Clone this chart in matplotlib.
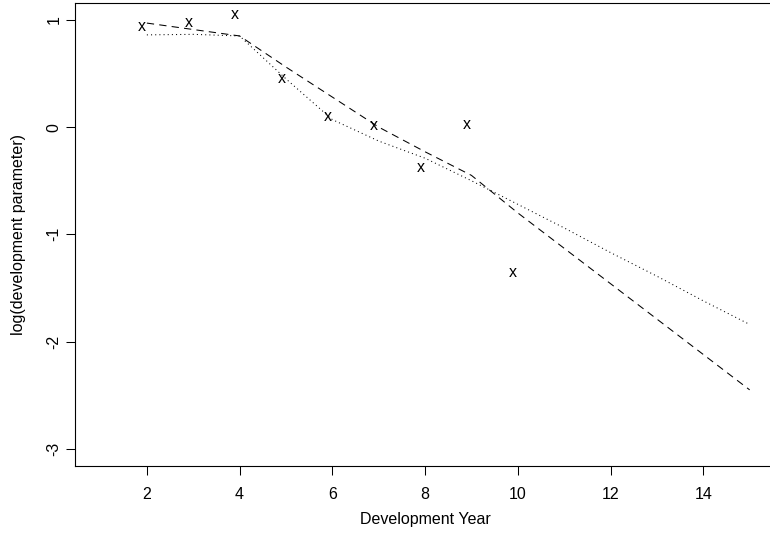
import matplotlib
matplotlib.use("Agg")
import matplotlib.pyplot as plt

# observed log development parameters (plotted as "x")
obs_x = [1.9, 2.9, 3.9, 4.9, 5.9, 6.9, 7.9, 8.9, 9.9]
obs_y = [0.95, 0.99, 1.06, 0.47, 0.11, 0.025, -0.36, 0.04, -1.34]

# fitted curves, development years 2..15
years = [2, 3, 4, 5, 6, 7, 8, 9, 10, 11, 12, 13, 14, 15]
fit_dashed = [0.97, 0.91, 0.85, 0.56, 0.28, 0.0, -0.23, -0.45, -0.80,
              -1.13, -1.46, -1.79, -2.12, -2.45]
fit_dotted = [0.86, 0.865, 0.85, 0.45, 0.07, -0.13, -0.29, -0.50, -0.72,
              -0.94, -1.17, -1.39, -1.62, -1.84]

x_ticks = [2, 4, 6, 8, 10, 12, 14]
y_ticks = [-3, -2, -1, 0, 1]

plt.rcParams['font.family'] = ['Liberation Sans', 'DejaVu Sans']
plt.rcParams['font.size'] = 11.5
plt.rcParams['axes.unicode_minus'] = False

fig = plt.figure(figsize=(7.7, 5.42), dpi=100)
ax = fig.add_axes([0.0968, 0.1402, 0.9105, 0.8548])

ax.plot(years, fit_dashed, color='black', lw=0.75, linestyle=(0, (7, 5)))
ax.plot(years, fit_dotted, color='black', lw=0.75, linestyle=(0, (1, 3)))
for x, y in zip(obs_x, obs_y):
    ax.text(x, y, 'x', ha='center', va='center_baseline', fontsize=11.5)

ax.set_xlim(0.44, 15.56)
ax.set_ylim(-3.16, 1.16)
ax.set_xticks(x_ticks)
ax.set_yticks(y_ticks)
ax.tick_params(direction='out', length=6.3, width=0.75, color='black')
ax.tick_params(axis='x', pad=9)
ax.tick_params(axis='y', pad=3)
for lab in ax.get_yticklabels():
    lab.set_rotation(90)
    lab.set_va('center')
for sp in ax.spines.values():
    sp.set_linewidth(0.8)

ax.set_xlabel('Development Year')
ax.set_ylabel('log(development parameter)')
ax.xaxis.set_label_coords(0.5, -0.115)
ax.xaxis.label.set_va('center')
ax.yaxis.set_label_coords(-0.0806, 0.5)
ax.yaxis.label.set_va('center')

fig.savefig('out.png', dpi=100)
